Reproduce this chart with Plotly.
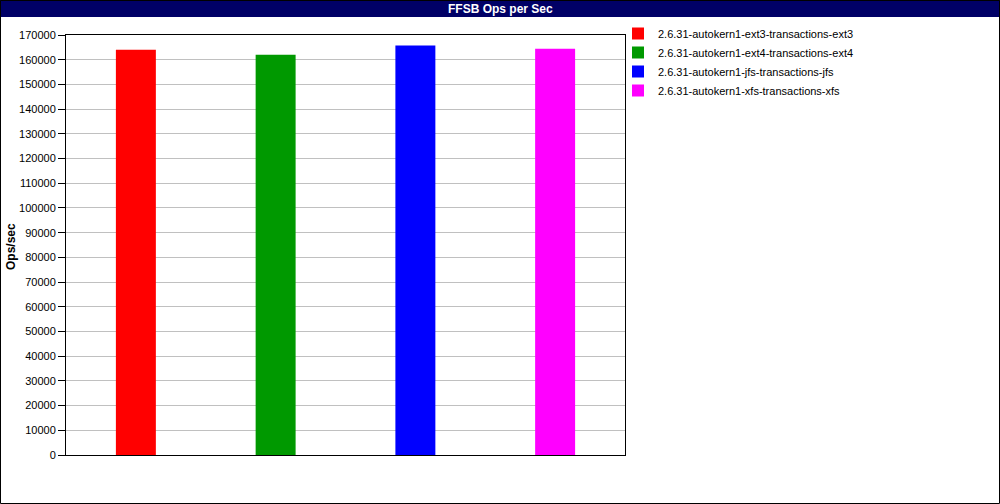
import plotly.graph_objects as go

# values
runs = [
    "2.6.31-autokern1-ext3-transactions-ext3",
    "2.6.31-autokern1-ext4-transactions-ext4",
    "2.6.31-autokern1-jfs-transactions-jfs",
    "2.6.31-autokern1-xfs-transactions-xfs",
]
ops_per_sec = [164000, 162000, 165700, 164400]
colors = ["#ff0000", "#009900", "#0000ff", "#ff00ff"]

W, H = 1000, 504
ml, mr, mt, mb = 66, 375, 35, 49
pw, ph = W - ml - mr, H - mt - mb

fig = go.Figure()
for i, (name, val, col) in enumerate(zip(runs, ops_per_sec, colors)):
    fig.add_trace(go.Bar(
        x=[i], y=[val], name=name,
        marker=dict(color=col, line=dict(width=0)),
        width=0.286,
    ))


# pixel -> paper helpers for the frame and title bar
def px_x(p):
    return (p - ml) / pw


def px_y(p):
    return (H - mb - p) / ph


fig.add_shape(type="rect", xref="paper", yref="paper",
              x0=px_x(0), x1=px_x(W), y0=px_y(17), y1=px_y(0),
              line=dict(width=0), fillcolor="#000066", layer="below")
fig.add_shape(type="rect", xref="paper", yref="paper",
              x0=px_x(0.5), x1=px_x(W - 0.5), y0=px_y(H - 0.5), y1=px_y(0.5),
              line=dict(color="black", width=1), fillcolor="rgba(0,0,0,0)", layer="below")

fig.add_annotation(text="<b>FFSB Ops per Sec</b>", xref="paper", yref="paper",
                   x=px_x(500), y=px_y(8.5), xanchor="center", yanchor="middle",
                   showarrow=False,
                   font=dict(color="white", size=12, family="Liberation Sans"))
fig.add_annotation(text="<b>Ops/sec</b>", xref="paper", yref="paper",
                   x=px_x(11), y=px_y(247), xanchor="center", yanchor="middle",
                   textangle=-90, showarrow=False,
                   font=dict(color="black", size=12, family="Liberation Sans"))

fig.update_layout(
    width=W, height=H,
    margin=dict(l=ml, r=mr, t=mt, b=mb, autoexpand=False),
    paper_bgcolor="white", plot_bgcolor="white",
    barmode="overlay",
    font=dict(family="Liberation Sans", size=11, color="black"),
    showlegend=True,
    legend=dict(x=px_x(618), y=px_y(19), xanchor="left", yanchor="top",
                font=dict(size=11), bgcolor="rgba(0,0,0,0)", tracegroupgap=0),
    xaxis=dict(range=[-0.5, 3.5], showticklabels=False, ticks="", showgrid=False,
               showline=True, linecolor="black", linewidth=1, mirror=True, zeroline=False),
    yaxis=dict(range=[0, 170000], dtick=10000, tickformat="d", ticks="outside", ticklen=7,
               tickcolor="black", showgrid=True, gridcolor="#c0c0c0", gridwidth=1,
               showline=True, linecolor="black", linewidth=1, mirror=True, zeroline=False,
               automargin=False),
)

# drop the default 8px page margin so the figure sits at the window's corner
fig.write_html("out.html", config={"displayModeBar": False},
               post_script="document.body.style.margin='0';")
